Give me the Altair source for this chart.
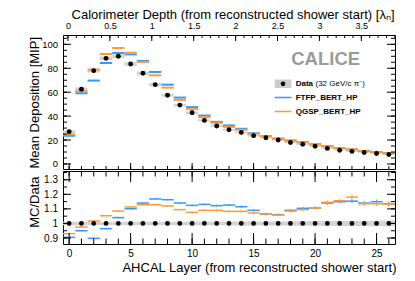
import altair as alt
import pandas as pd

FONT = "Liberation Sans"
BLUE = "#3399ff"
ORANGE = "#ff9933"
GREY = "#d2d2d2"

# ---------------- data ----------------
layers = [0, 1, 2, 3, 4, 5, 6, 7, 8, 9, 10, 11, 12, 13, 14, 15, 16, 17, 18, 19, 20, 21, 22, 23, 24, 25, 26]
data_mean = [26.9, 62.5, 78.0, 88.3, 90.0, 83.6, 75.8, 66.3, 57.5, 49.2, 42.8, 36.4, 31.7, 28.6,
             26.4, 23.6, 21.9, 20.0, 18.0, 16.5, 14.8, 13.0, 11.5, 10.5, 9.6, 8.8, 7.9]
data_err = [1.2, 1.4, 1.5, 1.6, 1.6, 1.5, 1.4, 1.3, 1.2, 1.1, 1.0, 0.9, 0.8, 0.8,
            0.7, 0.7, 0.6, 0.6, 0.6, 0.5, 0.5, 0.5, 0.4, 0.4, 0.4, 0.4, 0.4]
ftfp_mean = [23.6, 59.1, 69.7, 84.4, 92.8, 91.6, 86.1, 76.9, 66.3, 55.5, 47.5, 40.5, 35.2, 32.2,
             29.4, 25.7, 23.3, 21.2, 19.6, 18.2, 16.4, 14.8, 13.2, 12.1, 10.9, 10.1, 9.0]
qgsp_mean = [24.7, 60.8, 78.9, 91.9, 96.9, 93.0, 85.3, 74.1, 63.8, 53.6, 45.8, 39.2, 34.4, 31.0,
             28.6, 25.3, 23.3, 21.2, 19.5, 18.1, 16.4, 14.9, 13.3, 12.4, 10.9, 10.0, 9.0]
ftfp_ratio = [0.905, 0.950, 0.898, 0.964, 1.040, 1.101, 1.140, 1.168, 1.163, 1.140, 1.124, 1.131, 1.122, 1.126,
              1.115, 1.090, 1.065, 1.060, 1.090, 1.104, 1.106, 1.140, 1.149, 1.153, 1.140, 1.149, 1.135]
qgsp_ratio = [0.930, 0.975, 1.017, 1.053, 1.085, 1.113, 1.129, 1.129, 1.120, 1.095, 1.076, 1.090, 1.090, 1.083,
              1.083, 1.072, 1.065, 1.058, 1.085, 1.095, 1.106, 1.145, 1.156, 1.181, 1.135, 1.135, 1.133]
ftfp_ratio_err = [0.005, 0.005, 0.005, 0.005, 0.005, 0.005, 0.006, 0.006, 0.006, 0.006, 0.007, 0.007, 0.007, 0.008,
                  0.008, 0.008, 0.009, 0.009, 0.010, 0.010, 0.011, 0.012, 0.012, 0.013, 0.014, 0.015, 0.016]
qgsp_ratio_err = [0.005, 0.005, 0.005, 0.005, 0.005, 0.005, 0.006, 0.006, 0.006, 0.006, 0.007, 0.007, 0.007, 0.008,
                  0.008, 0.008, 0.009, 0.009, 0.010, 0.010, 0.011, 0.012, 0.013, 0.017, 0.014, 0.015, 0.016]
data_ratio_err = [0.012, 0.012, 0.012, 0.012, 0.012, 0.012, 0.012, 0.012, 0.012, 0.012, 0.013, 0.013, 0.013, 0.013,
                  0.014, 0.014, 0.014, 0.015, 0.015, 0.016, 0.016, 0.017, 0.017, 0.018, 0.018, 0.019, 0.020]

# axis ticks / labels
x_major = [0, 5, 10, 15, 20, 25]
x_minor = layers
lam_major = [0, 0.5, 1, 1.5, 2, 2.5, 3, 3.5]
lam_minor = [0, 0.1, 0.2, 0.3, 0.4, 0.5, 0.6, 0.7, 0.8, 0.9, 1.0, 1.1, 1.2, 1.3, 1.4, 1.5, 1.6, 1.7, 1.8, 1.9,
             2.0, 2.1, 2.2, 2.3, 2.4, 2.5, 2.6, 2.7, 2.8, 2.9, 3.0, 3.1, 3.2, 3.3, 3.4, 3.5, 3.6, 3.7, 3.8, 3.9]
top_y_major = [0, 20, 40, 60, 80, 100]
top_y_minor = [0, 5, 10, 15, 20, 25, 30, 35, 40, 45, 50, 55, 60, 65, 70, 75, 80, 85, 90, 95, 100, 105]
ratio_y_major = [0.9, 1.0, 1.1, 1.2, 1.3]
ratio_y_minor = [0.9, 0.95, 1.0, 1.05, 1.1, 1.15, 1.2, 1.25, 1.3, 1.35]

# depth conversion of the upper axis: lambda = LAM0 + K * layer
K = 0.1467
LAM0 = 0.014
lam_major_at = [(v - LAM0) / K for v in lam_major]
lam_minor_at = [(v - LAM0) / K for v in lam_minor]

legend_data_label = "Data"
legend_data_note = "(32 GeV/c π⁻)"
legend_mc_labels = ["FTFP_BERT_HP", "QGSP_BERT_HP"]
legend_mc_colors = [BLUE, ORANGE]

# ---------------- layout ----------------
W = 332
H_TOP = 134
H_RAT = 73

xs = alt.Scale(domain=[-0.5, 26.5], nice=False, zero=False)
ys_top = alt.Scale(domain=[-4.2, 107.8], nice=False, zero=False)
ys_rat = alt.Scale(domain=[0.859, 1.36], nice=False, zero=False)

df = pd.DataFrame({
    "layer": layers, "data_mean": data_mean, "data_err": data_err,
    "ftfp_mean": ftfp_mean, "qgsp_mean": qgsp_mean,
    "ftfp_ratio": ftfp_ratio, "qgsp_ratio": qgsp_ratio,
    "ftfp_ratio_err": ftfp_ratio_err, "qgsp_ratio_err": qgsp_ratio_err,
    "data_ratio_err": data_ratio_err,
})

base = alt.Chart(df).transform_calculate(
    x0="datum.layer - 0.5",
    x1="datum.layer + 0.5",
    dlo="datum.data_mean - datum.data_err",
    dhi="datum.data_mean + datum.data_err",
    one="datum.data_mean / datum.data_mean",
    rlo="1 - datum.data_ratio_err",
    rhi="1 + datum.data_ratio_err",
    flo="datum.ftfp_ratio - datum.ftfp_ratio_err",
    fhi="datum.ftfp_ratio + datum.ftfp_ratio_err",
    qlo="datum.qgsp_ratio - datum.qgsp_ratio_err",
    qhi="datum.qgsp_ratio + datum.qgsp_ratio_err",
)


def lab(size):
    return dict(labelFont=FONT, labelFontSize=size, labelColor="black", labelFlush=False, labelOverlap=False,
                ticks=False, domain=False, grid=False)


ttl = dict(titleFont=FONT, titleFontSize=13, titleFontWeight="normal", titleColor="black")

# axes (the same spec is given to every layer of a panel so that they merge into one)
top_y_axis = alt.Axis(values=top_y_major, labelPadding=5.5, format=".3~g",
                      title="Mean Deposition [MIP]", titleAngle=270, titleX=-25, titleY=1.5,
                      titleAlign="right", titleBaseline="alphabetic", titleAnchor="end", **lab(9.5), **ttl)
lam_axis = alt.Axis(orient="top", values=lam_major_at, labelPadding=4.5,
                    labelExpr=f"format(abs(round((datum.value * {K} + {LAM0}) * 10) / 10), '.2~g')",
                    title="Calorimeter Depth (from reconstructed shower start) [λₙ]",
                    titleX=331, titleY=-16.5, titleAlign="right", titleBaseline="alphabetic", titleAnchor="end",
                    **lab(9), **ttl)
rat_y_axis = alt.Axis(values=ratio_y_major, labelPadding=5.5, format=".3~g",
                      title="MC/Data", titleAngle=270, titleX=-25, titleY=5,
                      titleAlign="right", titleBaseline="alphabetic", titleAnchor="end", **lab(10), **ttl)
rat_x_axis = alt.Axis(values=x_major, labelPadding=4, format="d",
                      title="AHCAL Layer (from reconstructed shower start)",
                      titleX=333, titleY=27, titleAlign="right", titleBaseline="alphabetic", titleAnchor="end",
                      **lab(10), **ttl)


def yticks(values, scale, axis, length, side):
    d = pd.DataFrame({"v": values})
    a, b = (0, length) if side == "left" else (W, W - length)
    return alt.Chart(d).mark_rule(color="black", strokeWidth=1).encode(
        y=alt.Y("v:Q", scale=scale, axis=axis), x=alt.value(a), x2=alt.value(b))


def xticks(values, scale, axis, length, y_edge, direction):
    d = pd.DataFrame({"v": values})
    return alt.Chart(d).mark_rule(color="black", strokeWidth=1).encode(
        x=alt.X("v:Q", scale=scale, axis=axis), y=alt.value(y_edge), y2=alt.value(y_edge + direction * length))


one_row = pd.DataFrame({"a": [0]})

# ---------------- top panel ----------------
XT = dict(scale=xs, axis=lam_axis)
YT = dict(scale=ys_top, axis=top_y_axis)

top_layers = [
    base.mark_rect(color=GREY).encode(
        x=alt.X("x0:Q", **XT), x2="x1:Q", y=alt.Y("dlo:Q", **YT), y2="dhi:Q"),
    base.mark_rule(color=BLUE, strokeWidth=2).encode(
        x=alt.X("x0:Q", **XT), x2="x1:Q", y=alt.Y("ftfp_mean:Q", **YT)),
    base.mark_rule(color=ORANGE, strokeWidth=2).encode(
        x=alt.X("x0:Q", **XT), x2="x1:Q", y=alt.Y("qgsp_mean:Q", **YT)),
    base.mark_circle(color="black", size=24, opacity=1).encode(
        x=alt.X("layer:Q", **XT), y=alt.Y("data_mean:Q", **YT)),
    yticks(top_y_major, ys_top, top_y_axis, 8, "left"),
    yticks(top_y_minor, ys_top, top_y_axis, 4, "left"),
    yticks(top_y_major, ys_top, top_y_axis, 8, "right"),
    yticks(top_y_minor, ys_top, top_y_axis, 4, "right"),
    xticks(x_major, xs, lam_axis, 6, H_TOP, -1),
    xticks(x_minor, xs, lam_axis, 3, H_TOP, -1),
    xticks(lam_major_at, xs, lam_axis, 6, 0, 1),
    xticks(lam_minor_at, xs, lam_axis, 3, 0, 1),
    # CALICE label and legend
    alt.Chart(one_row).mark_text(text="CALICE", font=FONT, fontSize=18.5, fontWeight="bold", color="#9a9a9a",
                                 align="center", baseline="alphabetic").encode(x=alt.value(262.7), y=alt.value(29.8)),
    alt.Chart(one_row).mark_rect(color="#cccccc").encode(
        x=alt.value(211.7), x2=alt.value(228.4), y=alt.value(44.5), y2=alt.value(53.0)),
    alt.Chart(one_row).mark_circle(color="black", size=22, opacity=1).encode(x=alt.value(220), y=alt.value(48.8)),
    alt.Chart(one_row).mark_text(text=legend_data_label, font=FONT, fontSize=8, fontWeight="bold",
                                 color="black", fill="black",
                                 align="left", baseline="middle").encode(x=alt.value(232.7), y=alt.value(48.8)),
    alt.Chart(one_row).mark_text(text=legend_data_note, font=FONT, fontSize=8, color="black", fill="black",
                                 align="left", baseline="middle").encode(x=alt.value(252.5), y=alt.value(48.8)),
]
for i, (lbl, col) in enumerate(zip(legend_mc_labels, legend_mc_colors)):
    yy = 62.5 + 14 * i
    top_layers.append(alt.Chart(one_row).mark_rule(color=col, strokeWidth=1.5).encode(
        x=alt.value(211.7), x2=alt.value(228.4), y=alt.value(yy)))
    top_layers.append(alt.Chart(one_row).mark_text(text=lbl, font=FONT, fontSize=8, fontWeight="bold",
                                                   color="black", fill="black",
                                                   align="left", baseline="middle").encode(
        x=alt.value(232.7), y=alt.value(yy)))

top = alt.layer(*top_layers).properties(width=W, height=H_TOP)

# ---------------- ratio panel ----------------
XR = dict(scale=xs, axis=rat_x_axis)
YR = dict(scale=ys_rat, axis=rat_y_axis)

rat_layers = [
    base.mark_rect(color=GREY).encode(
        x=alt.X("x0:Q", **XR), x2="x1:Q", y=alt.Y("rlo:Q", **YR), y2="rhi:Q"),
    base.mark_rule(color=BLUE, strokeWidth=1.5).encode(
        x=alt.X("x0:Q", **XR), x2="x1:Q", y=alt.Y("ftfp_ratio:Q", **YR)),
    base.mark_rule(color=BLUE, strokeWidth=1).encode(
        x=alt.X("layer:Q", **XR), y=alt.Y("flo:Q", **YR), y2="fhi:Q"),
    base.mark_rule(color=ORANGE, strokeWidth=1.5).encode(
        x=alt.X("x0:Q", **XR), x2="x1:Q", y=alt.Y("qgsp_ratio:Q", **YR)),
    base.mark_rule(color=ORANGE, strokeWidth=1).encode(
        x=alt.X("layer:Q", **XR), y=alt.Y("qlo:Q", **YR), y2="qhi:Q"),
    base.mark_circle(color="black", size=22, opacity=1).encode(
        x=alt.X("layer:Q", **XR), y=alt.Y("one:Q", **YR)),
    yticks(ratio_y_major, ys_rat, rat_y_axis, 8, "left"),
    yticks(ratio_y_minor, ys_rat, rat_y_axis, 4, "left"),
    yticks(ratio_y_major, ys_rat, rat_y_axis, 8, "right"),
    yticks(ratio_y_minor, ys_rat, rat_y_axis, 4, "right"),
    xticks(x_major, xs, rat_x_axis, 11, H_RAT, -1),
    xticks(x_minor, xs, rat_x_axis, 5.5, H_RAT, -1),
    xticks(x_major, xs, rat_x_axis, 11, 0, 1),
    xticks(x_minor, xs, rat_x_axis, 5.5, 0, 1),
]
bottom = alt.layer(*rat_layers).properties(width=W, height=H_RAT)

chart = alt.vconcat(top, bottom, spacing=0).properties(
    padding={"left": 19, "top": 0, "right": 4, "bottom": 2}
).configure_view(stroke="black", strokeWidth=1)

chart.save("out.html", embed_options={"renderer": "svg", "actions": False})
